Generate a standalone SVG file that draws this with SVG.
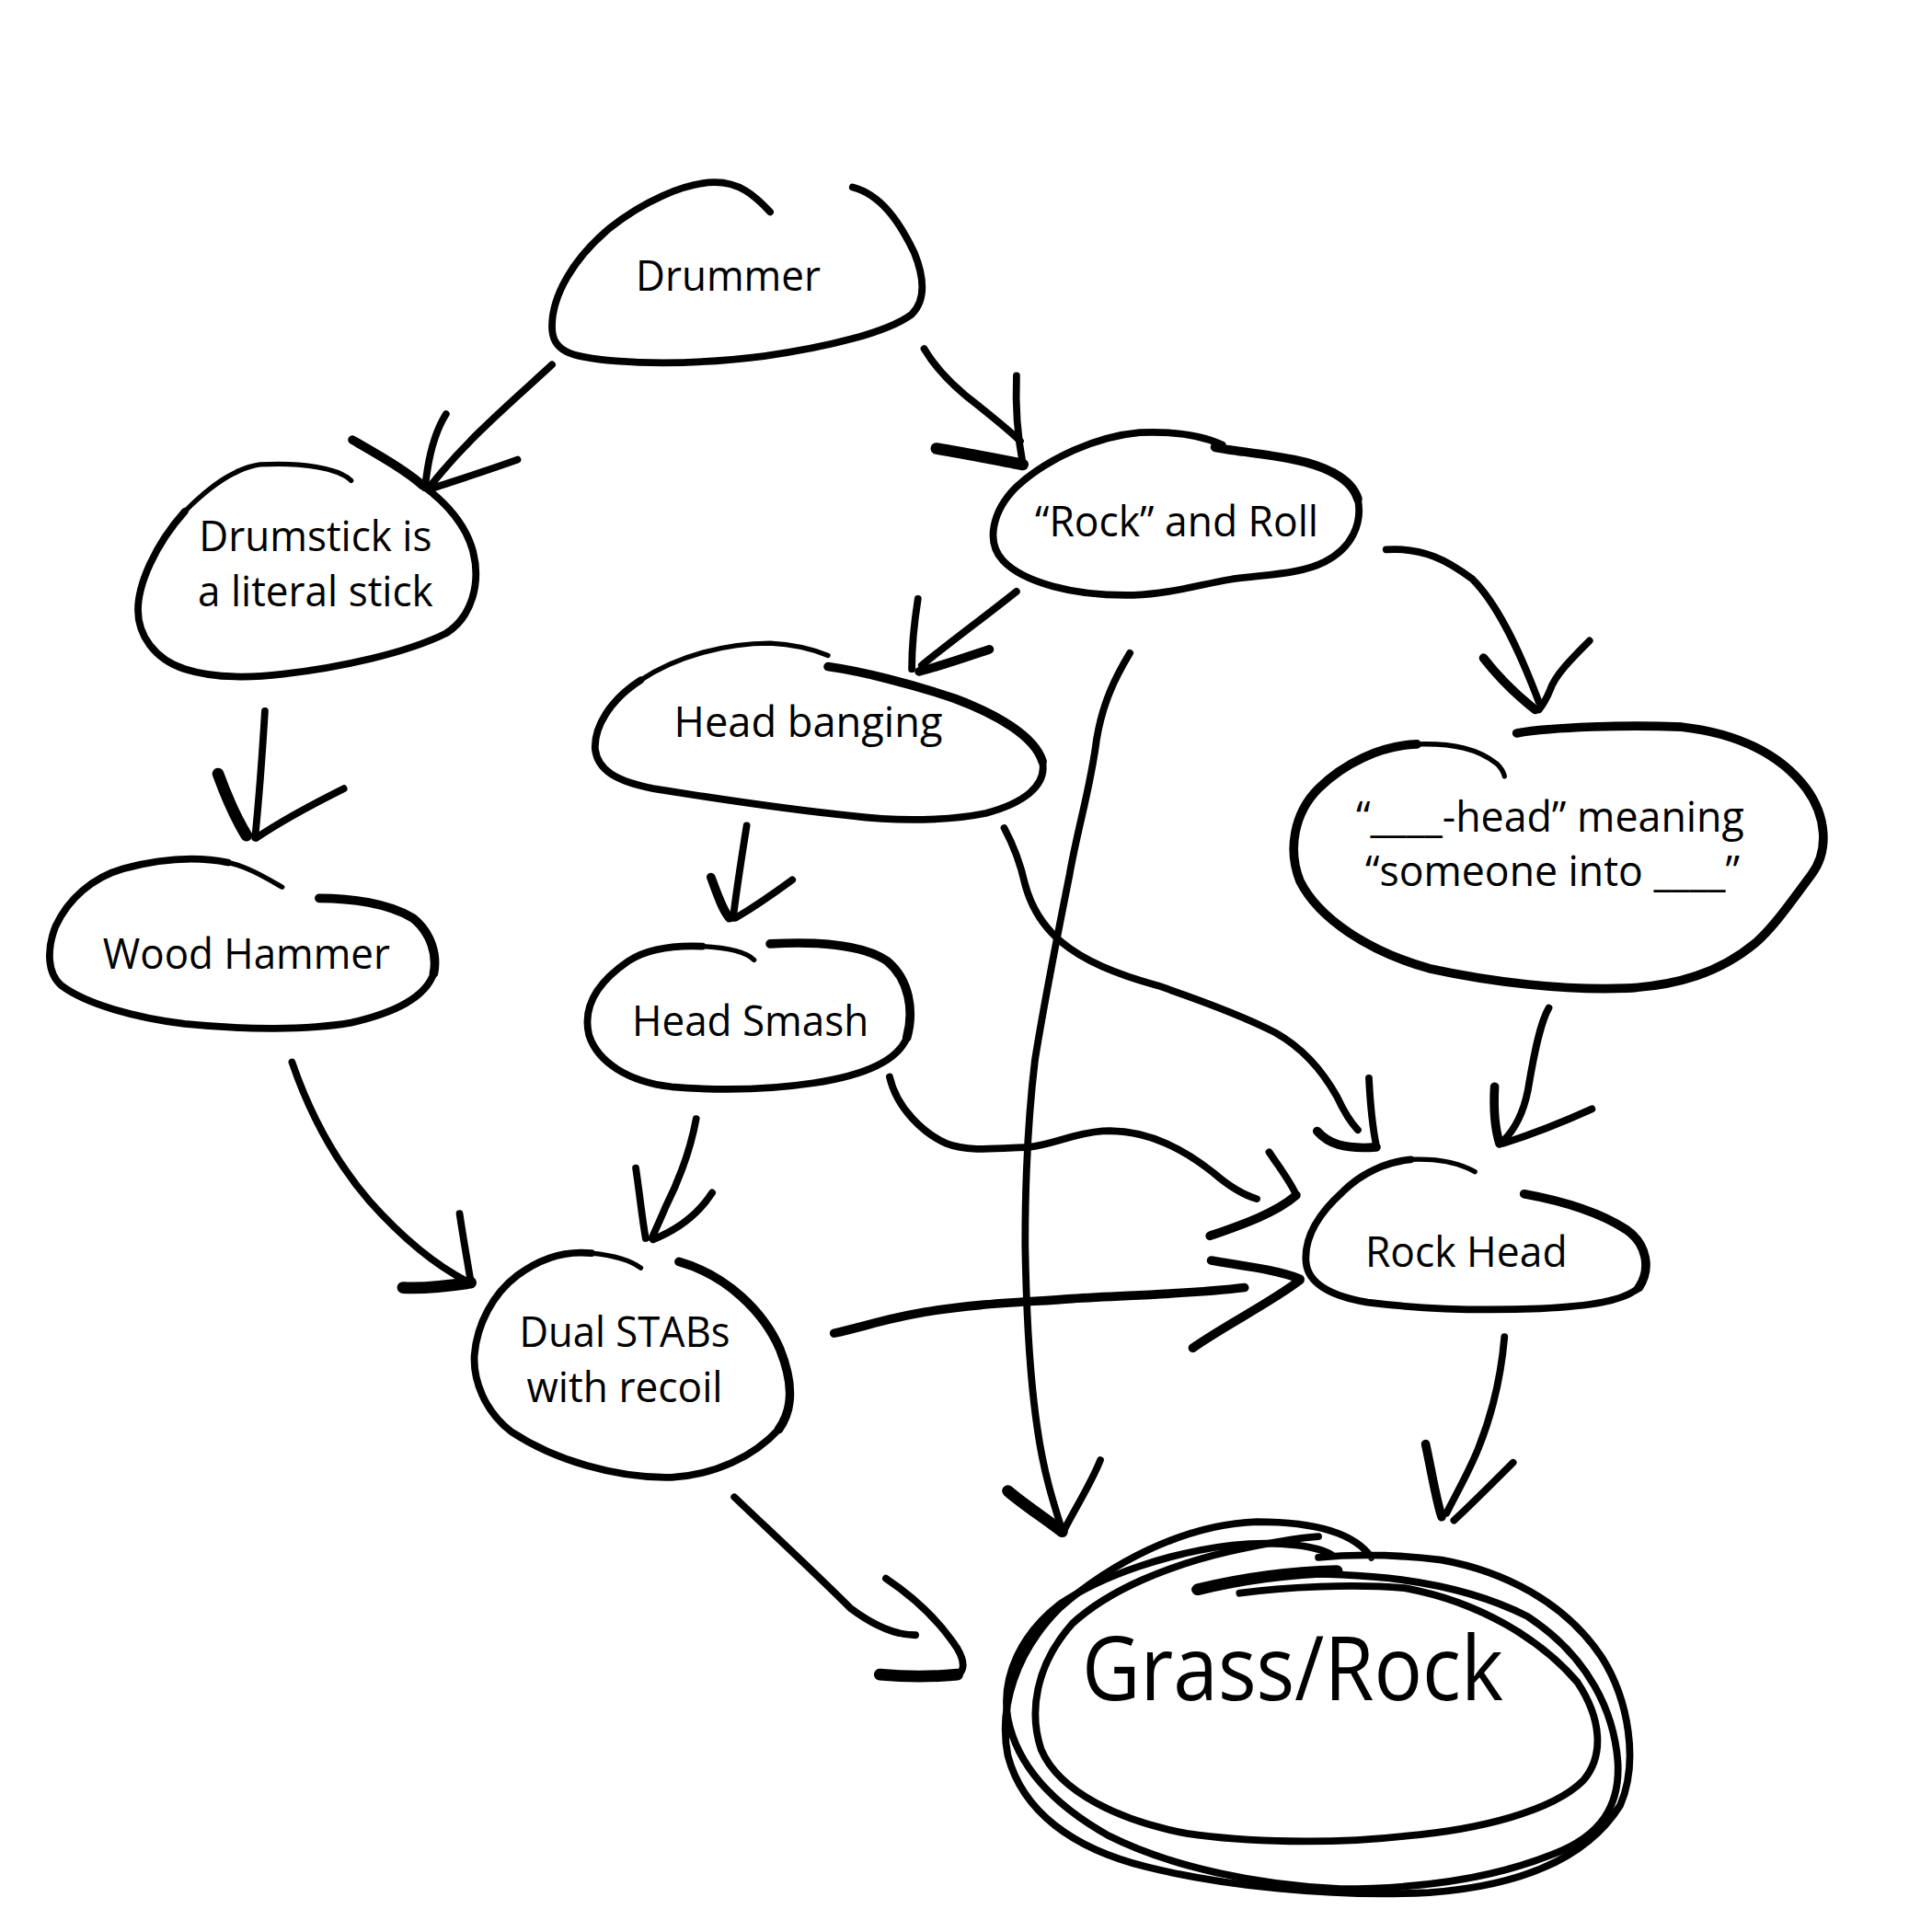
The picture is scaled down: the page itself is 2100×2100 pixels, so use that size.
<svg xmlns="http://www.w3.org/2000/svg" width="2100" height="2100" viewBox="0 0 2100 2100">
<style>
.o{fill:none;stroke:#000;stroke-linecap:round;stroke-linejoin:round}
.n{stroke-width:5.8}
.t{stroke-width:4}
.k{stroke-width:9.5}
.m{stroke-width:7.2}
text{font-family:"Open Sans","Noto Sans",sans-serif;font-size:34px;text-anchor:middle;fill:#000}
.big{font-size:72px}
</style>
<rect width="2100" height="2100" fill="#fff"/>
<g transform="scale(1.3393)">
<g id="drummer">
<path class="o n" d="M625,172 C612,158 600,148 580,148 C555,148 520,165 495,185 C465,210 448,240 448,265 C448,285 462,290 500,293 C540,296 580,294 620,289 C670,282 720,270 740,255 C752,243 750,225 742,205 C730,180 715,158 692,152"/>
<text x="591" y="236" textLength="150" lengthAdjust="spacingAndGlyphs">Drummer</text>
</g>
<g id="drumstick">
<path class="o t" d="M285,390 C275,380 245,375 211,377 C190,380 170,395 150,415"/>
<path class="o n" d="M150,415 C125,443 112,475 112,495 C112,515 125,535 150,543 C175,551 205,550 230,547 C275,542 330,530 362,514 C384,500 390,472 384,448 C378,425 362,408 343,394"/>
<path class="o m" d="M343,394 C330,382 305,368 286,357"/>
<text x="256" y="447" textLength="189" lengthAdjust="spacingAndGlyphs">Drumstick is</text>
<text x="256" y="492" textLength="191" lengthAdjust="spacingAndGlyphs">a literal stick</text>
</g>
<g id="rockroll">
<path class="o n" d="M992,361 C975,353 950,350 925,351 C890,354 850,372 825,395 C805,415 800,440 814,455 C830,472 870,484 920,483 C950,482 975,474 1000,470 C1030,466 1055,466 1075,456 C1097,445 1106,425 1102,405"/>
<path class="o m" d="M1102,405 C1097,388 1075,378 1050,373 C1025,368 1000,366 986,363"/>
<text x="955" y="435" textLength="230" lengthAdjust="spacingAndGlyphs">“Rock” and Roll</text>
</g>
<g id="headbanging">
<path class="o m" d="M672,541 C700,545 740,555 775,567 C810,580 840,598 846,618"/>
<path class="o n" d="M846,618 C850,638 830,652 800,660 C770,666 730,667 690,662 C640,657 580,648 530,640 C500,634 485,625 483,608 C482,590 495,568 520,552"/>
<path class="o t" d="M520,552 C550,532 590,522 625,522 C645,523 660,527 672,532"/>
<text x="656" y="598" textLength="218" lengthAdjust="spacingAndGlyphs">Head banging</text>
</g>
<g id="headmeaning">
<path class="o m" d="M1231,595 C1260,590 1320,588 1365,590 C1410,595 1445,612 1466,640 C1482,662 1485,690 1470,710 C1455,730 1440,752 1425,765 C1395,790 1360,800 1320,802 C1270,804 1210,797 1160,786 C1110,772 1070,745 1055,715 C1045,690 1050,660 1070,640 C1090,620 1120,605 1150,604"/>
<path class="o t" d="M1150,604 C1180,603 1200,608 1215,620 C1220,625 1221,630 1221,630"/>
<text x="1258" y="675" textLength="315" lengthAdjust="spacingAndGlyphs">“____-head” meaning</text>
<text x="1260" y="719" textLength="304" lengthAdjust="spacingAndGlyphs">“someone into ____”</text>
</g>
<g id="woodhammer">
<path class="o m" d="M259,729 C285,729 315,733 335,745 C350,757 355,775 352,790"/>
<path class="o n" d="M352,790 C345,810 320,822 285,830 C250,836 200,836 150,831 C110,826 70,815 50,800 C38,790 38,770 45,752 C55,730 75,712 100,705 C130,697 160,695 185,700"/>
<path class="o t" d="M185,700 C200,703 215,712 229,720"/>
<text x="200" y="786" textLength="233" lengthAdjust="spacingAndGlyphs">Wood Hammer</text>
</g>
<g id="headsmash">
<path class="o m" d="M625,766 C660,764 700,766 720,780 C738,795 742,820 736,842"/>
<path class="o n" d="M736,842 C728,862 700,873 660,879 C620,885 580,885 545,882 C510,878 485,862 478,840 C472,815 488,795 510,780 C525,770 545,767 570,768"/>
<path class="o t" d="M570,768 C590,769 605,772 612,779"/>
<text x="609" y="841" textLength="192" lengthAdjust="spacingAndGlyphs">Head Smash</text>
</g>
<g id="rockhead">
<path class="o m" d="M1237,969 C1270,975 1300,985 1320,998 C1337,1010 1340,1030 1330,1045"/>
<path class="o n" d="M1330,1045 C1318,1056 1290,1060 1250,1062 C1200,1064 1150,1062 1110,1057 C1080,1052 1062,1042 1060,1025 C1058,1005 1070,985 1090,967 C1105,952 1125,943 1145,941"/>
<path class="o t" d="M1145,941 C1170,940 1185,944 1197,951"/>
<text x="1190" y="1028" textLength="164" lengthAdjust="spacingAndGlyphs">Rock Head</text>
</g>
<g id="dualstabs">
<path class="o m" d="M551,1024 C590,1035 620,1065 633,1095 C643,1120 645,1142 632,1160"/>
<path class="o n" d="M632,1160 C612,1182 580,1197 545,1199 C500,1200 450,1185 415,1162 C393,1145 384,1120 385,1100 C387,1075 400,1050 420,1035 C440,1020 460,1015 480,1017"/>
<path class="o t" d="M480,1017 C500,1019 512,1023 520,1029"/>
<text x="507" y="1093" textLength="171" lengthAdjust="spacingAndGlyphs">Dual STABs</text>
<text x="507" y="1138" textLength="159" lengthAdjust="spacingAndGlyphs">with recoil</text>
</g>
<g id="grassrock">
<path class="o n" d="M970,1290 C1010,1280 1050,1276 1088,1278 C1140,1280 1195,1289 1240,1312 C1290,1345 1310,1390 1313,1430 C1315,1465 1300,1490 1260,1505 C1210,1525 1150,1533 1088,1533 C1020,1530 950,1515 900,1490 C850,1462 825,1430 818,1395 C812,1360 830,1325 860,1302 C895,1278 950,1260 1000,1254 C1040,1250 1070,1255 1081,1262"/>
<path class="o n" d="M1006,1293 C1040,1288 1100,1285 1141,1289 C1200,1300 1250,1330 1280,1365 C1300,1395 1302,1425 1285,1445 C1260,1470 1200,1485 1141,1490 C1080,1497 1010,1495 963,1488 C910,1478 860,1455 845,1420 C835,1390 840,1352 870,1318 C900,1290 950,1270 998,1259 C1030,1252 1055,1248 1070,1247"/>
<path class="o n" d="M1113,1264 C1100,1245 1070,1235 1020,1235 C960,1237 900,1270 860,1305 C825,1340 810,1385 818,1425 C830,1470 870,1500 930,1515 C990,1530 1080,1540 1160,1536 C1240,1530 1290,1505 1315,1465 C1330,1430 1322,1380 1300,1345 C1270,1300 1220,1275 1170,1266 C1120,1260 1090,1262 1070,1264"/>
<path class="o k" d="M972,1290 C1005,1282 1045,1276 1085,1275"/>
<text class="big" x="1049" y="1380" textLength="342" lengthAdjust="spacingAndGlyphs">Grass/Rock</text>
</g>
<g id="connectors">
<path class="o n" d="M750,283 C760,300 775,315 795,330 C810,342 820,350 828,358"/>
<path class="o n" d="M825,305 C824,330 826,355 830,376"/>
<path class="o k" d="M760,364 C785,368 808,373 830,377"/>
<path class="o n" d="M448,296 C420,322 380,355 348,396"/>
<path class="o n" d="M362,336 C352,352 347,375 345,396"/>
<path class="o n" d="M420,373 C395,382 370,390 352,396"/>
<path class="o n" d="M215,577 C213,610 210,650 207,680"/>
<path class="o k" d="M177,628 C185,650 192,665 200,678"/>
<path class="o n" d="M279,640 C255,652 230,665 208,680"/>
<path class="o n" d="M237,862 C250,900 270,940 300,975 C325,1003 350,1025 379,1040"/>
<path class="o n" d="M373,985 C376,1005 379,1022 382,1040"/>
<path class="o k" d="M327,1045 C345,1046 362,1044 382,1041"/>
<path class="o n" d="M825,480 C800,500 770,522 748,540"/>
<path class="o n" d="M745,486 C742,505 740,525 740,543"/>
<path class="o m" d="M803,527 C785,533 765,540 746,545"/>
<path class="o n" d="M606,670 C602,695 598,720 595,745"/>
<path class="o m" d="M577,712 C582,725 586,738 592,745"/>
<path class="o n" d="M643,714 C628,725 612,736 597,745"/>
<path class="o n" d="M565,908 C560,935 550,960 540,980 C535,992 531,1000 529,1005"/>
<path class="o n" d="M516,948 C519,968 521,988 524,1005"/>
<path class="o n" d="M578,968 C567,985 550,998 530,1006"/>
<path class="o n" d="M722,874 C728,900 750,920 768,928 C785,935 810,932 835,931 C855,929 870,920 895,918 C930,916 960,932 985,952 C1000,965 1010,970 1020,973"/>
<path class="o n" d="M1030,935 C1040,950 1048,960 1052,970"/>
<path class="o m" d="M1052,970 C1035,985 1005,995 982,1003"/>
<path class="o n" d="M815,672 C822,685 828,700 832,718 C838,740 850,755 862,765 C880,780 910,792 940,800 C975,812 1010,825 1035,838 C1060,852 1075,872 1085,890 C1092,905 1097,912 1102,917"/>
<path class="o n" d="M1111,875 C1112,895 1114,915 1117,930"/>
<path class="o m" d="M1069,918 C1078,928 1090,933 1117,931"/>
<path class="o n" d="M917,530 C905,550 895,570 890,600 C885,640 875,670 868,710 C858,760 848,810 840,860 C834,910 832,960 832,1010 C833,1070 836,1120 842,1160 C847,1195 855,1220 862,1242"/>
<path class="o k" d="M818,1210 C832,1222 848,1232 862,1243"/>
<path class="o n" d="M893,1185 C885,1205 872,1225 863,1243"/>
<path class="o n" d="M1125,446 C1155,444 1175,455 1195,470 C1215,490 1232,525 1249,570"/>
<path class="o m" d="M1204,534 C1218,552 1232,565 1246,576"/>
<path class="o n" d="M1290,520 C1275,535 1262,548 1258,560 C1255,568 1252,572 1249,576"/>
<path class="o n" d="M1257,818 C1250,830 1245,855 1240,885 C1236,905 1228,918 1220,926"/>
<path class="o m" d="M1213,882 C1212,900 1213,915 1217,928"/>
<path class="o n" d="M1292,900 C1270,910 1245,920 1220,928"/>
<path class="o m" d="M677,1082 C700,1077 720,1070 750,1065 C790,1058 830,1057 870,1054 C920,1051 970,1050 1010,1045"/>
<path class="o m" d="M983,1023 C1005,1027 1035,1030 1055,1038"/>
<path class="o m" d="M1055,1039 C1030,1058 995,1075 968,1094"/>
<path class="o n" d="M596,1215 C620,1238 660,1275 690,1305 C710,1320 728,1327 743,1327"/>
<path class="o n" d="M719,1281 C740,1295 762,1315 777,1338 C784,1350 782,1357 777,1359"/>
<path class="o k" d="M714,1359 C735,1361 757,1361 777,1359"/>
<path class="o n" d="M1221,1085 C1218,1120 1210,1150 1200,1175 C1192,1195 1182,1212 1174,1228"/>
<path class="o m" d="M1157,1172 C1162,1195 1165,1215 1170,1231"/>
<path class="o n" d="M1228,1187 C1210,1205 1195,1220 1180,1234"/>
</g>
</g>
</svg>
